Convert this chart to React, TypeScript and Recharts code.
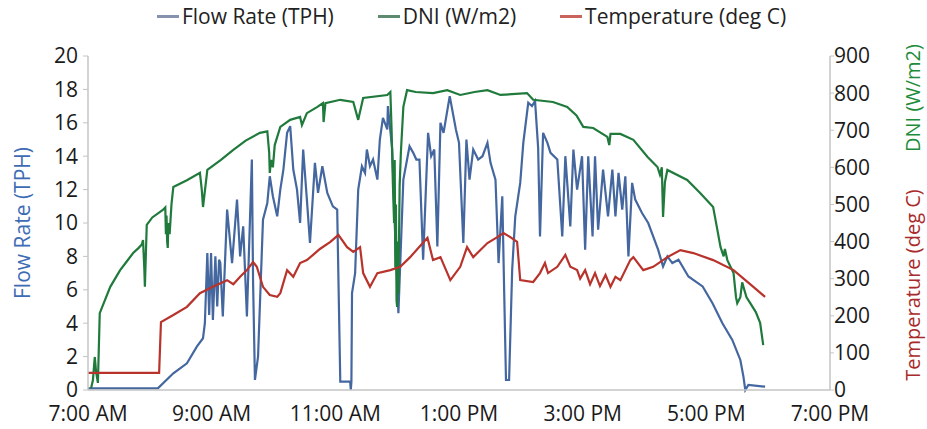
import React from 'react';
import { LineChart, Line, XAxis, YAxis, Legend } from 'recharts';

// time of day in decimal hours
const xTicks = [7, 9, 11, 13, 15, 17, 19];
const xTickLabels = ['7:00 AM', '9:00 AM', '11:00 AM', '1:00 PM', '3:00 PM', '5:00 PM', '7:00 PM'];
const leftTicks = [0, 2, 4, 6, 8, 10, 12, 14, 16, 18, 20];
const rightTicks = [0, 100, 200, 300, 400, 500, 600, 700, 800, 900];

const seriesNames = ['Flow Rate (TPH)', 'DNI (W/m2)', 'Temperature (deg C)'];
const seriesColors = ['#44679f', '#1f7a3c', '#b8332b'];
const legendIconColors = ['#8591ad', '#5e8a70', '#c8645c'];

const flowRate: [number, number][] = [
  [7.0, 0.1], [8.13, 0.1], [8.38, 1.0], [8.6, 1.6], [8.76, 2.6], [8.86, 3.1], [8.89, 4.0], [8.93, 8.2], [8.96, 4.5],
  [8.99, 8.2], [9.02, 4.2], [9.06, 8.0], [9.09, 5.0], [9.12, 7.8], [9.14, 7.6], [9.18, 4.4], [9.25, 10.8], [9.33, 7.6],
  [9.41, 11.4], [9.46, 8.0], [9.51, 9.8], [9.57, 4.4], [9.65, 13.8], [9.67, 6.4], [9.7, 0.6], [9.75, 2.0], [9.83, 10.2],
  [9.9, 11.2], [9.94, 12.8], [9.99, 11.6], [10.06, 10.4], [10.11, 12.0], [10.16, 13.2], [10.22, 15.4], [10.27, 15.8],
  [10.32, 13.2], [10.38, 12.0], [10.43, 10.0], [10.48, 14.4], [10.54, 11.4], [10.59, 8.8], [10.67, 13.6], [10.72, 11.8],
  [10.79, 13.4], [10.87, 11.8], [10.96, 11.0], [11.03, 10.8], [11.08, 0.5], [11.24, 0.5], [11.25, 0], [11.26, 0.5],
  [11.27, 5.8], [11.32, 7.0], [11.37, 12.0], [11.43, 13.4], [11.48, 13.0], [11.51, 14.4], [11.56, 13.4], [11.61, 13.8],
  [11.68, 12.6], [11.72, 15.0], [11.77, 16.3], [11.84, 15.6], [11.85, 17.0], [11.92, 14.4], [11.97, 9.0], [12.02, 4.6],
  [12.1, 12.6], [12.2, 14.6], [12.26, 14.2], [12.31, 13.8], [12.36, 13.8], [12.42, 7.8], [12.5, 15.4], [12.55, 14.0],
  [12.6, 14.4], [12.65, 8.6], [12.7, 16.0], [12.75, 15.4], [12.85, 17.6], [12.95, 15.6], [13.0, 14.8], [13.07, 8.8],
  [13.12, 15.0], [13.17, 12.6], [13.23, 14.4], [13.31, 13.8], [13.38, 14.0], [13.46, 14.8], [13.51, 13.6], [13.59, 12.6],
  [13.64, 7.6], [13.7, 11.6], [13.73, 6.0], [13.76, 0.6], [13.81, 0.6], [13.86, 7.2], [13.91, 10.4],
  [13.99, 12.4], [14.04, 14.8], [14.12, 17.2], [14.18, 17.0], [14.23, 17.3], [14.28, 14.5], [14.31, 9.2], [14.36, 15.4],
  [14.43, 14.8], [14.48, 14.2], [14.59, 13.8], [14.67, 9.2], [14.72, 14.0], [14.8, 9.8], [14.85, 14.4], [14.91, 12.0],
  [14.99, 14.0], [15.04, 8.4], [15.09, 14.0], [15.16, 9.2], [15.2, 14.0], [15.25, 9.6], [15.33, 13.2], [15.41, 10.4],
  [15.48, 13.2], [15.53, 10.4], [15.58, 13.0], [15.64, 10.8], [15.69, 12.8], [15.74, 8.0], [15.8, 12.4], [15.85, 11.4],
  [15.96, 10.6], [16.06, 10.0], [16.22, 8.4], [16.3, 7.4], [16.37, 8.0], [16.45, 7.6], [16.55, 7.8], [16.71, 6.8],
  [16.94, 6.2], [17.1, 5.2], [17.26, 4.0], [17.42, 3.0], [17.55, 1.8], [17.6, 0.8], [17.63, 0], [17.68, 0.3], [17.95, 0.2],
];

const dni: [number, number][] = [
  [7.05, 5], [7.08, 27], [7.1, 70], [7.11, 89], [7.13, 50], [7.16, 19], [7.19, 207], [7.36, 278], [7.52, 323],
  [7.62, 345], [7.73, 369], [7.82, 383], [7.87, 392], [7.89, 404], [7.91, 330], [7.92, 278], [7.95, 445], [8.04, 465],
  [8.21, 485], [8.25, 492], [8.26, 420], [8.27, 470], [8.28, 400], [8.29, 383], [8.3, 450], [8.32, 420], [8.35, 500],
  [8.38, 547], [8.6, 565], [8.81, 585], [8.84, 540], [8.86, 493], [8.93, 593], [9.15, 620], [9.35, 647], [9.55, 672],
  [9.78, 693], [9.9, 697], [9.93, 640], [9.94, 585], [9.96, 620], [9.99, 600], [10.02, 660], [10.11, 709], [10.27, 728],
  [10.43, 736], [10.46, 714], [10.54, 746], [10.71, 763], [10.8, 773], [10.81, 722], [10.84, 773], [11.08, 782],
  [11.29, 776], [11.37, 728], [11.45, 787], [11.84, 795], [11.89, 803], [11.91, 700], [11.93, 560], [11.95, 450],
  [11.96, 620], [11.97, 330], [11.98, 500], [11.99, 240], [12.0, 224], [12.01, 400], [12.02, 260], [12.04, 550],
  [12.06, 640], [12.1, 763], [12.16, 808], [12.3, 803], [12.58, 800], [12.81, 808], [13.02, 795], [13.25, 803],
  [13.46, 808], [13.67, 795], [14.1, 800], [14.2, 782], [14.52, 776], [14.75, 763], [14.9, 740], [15.01, 709],
  [15.17, 706], [15.4, 682], [15.43, 660], [15.45, 690], [15.61, 690], [15.82, 674], [16.05, 628], [16.21, 601],
  [16.25, 580], [16.28, 600], [16.3, 466], [16.33, 560], [16.37, 593], [16.69, 566], [16.9, 531], [17.11, 493],
  [17.18, 430], [17.23, 385], [17.28, 360], [17.3, 380], [17.34, 350], [17.44, 315], [17.48, 250], [17.5, 234],
  [17.55, 250], [17.58, 290], [17.6, 278], [17.65, 250], [17.71, 234], [17.8, 210], [17.87, 181], [17.92, 121],
];

const temperature: [number, number][] = [
  [7.0, 46], [8.15, 46], [8.18, 183], [8.38, 202], [8.6, 224], [8.81, 261], [9.02, 278], [9.25, 296], [9.35, 285],
  [9.46, 305], [9.57, 323], [9.67, 345], [9.73, 332], [9.83, 278], [9.94, 256], [10.06, 251], [10.11, 261],
  [10.22, 323], [10.32, 305], [10.43, 342], [10.54, 350], [10.64, 364], [10.75, 380], [10.92, 399], [11.05, 418],
  [11.19, 385], [11.29, 372], [11.4, 385], [11.45, 315], [11.56, 278], [11.68, 315], [11.89, 323], [12.05, 332],
  [12.21, 358], [12.49, 410], [12.58, 350], [12.7, 358], [12.86, 296], [13.02, 332], [13.13, 385], [13.23, 358],
  [13.46, 396], [13.62, 412], [13.72, 423], [13.83, 412], [13.94, 399], [13.99, 296], [14.2, 291], [14.31, 315],
  [14.39, 342], [14.44, 315], [14.59, 332], [14.72, 364], [14.8, 332], [14.91, 323], [14.96, 300], [15.04, 323],
  [15.12, 285], [15.2, 315], [15.28, 280], [15.37, 310], [15.45, 278], [15.53, 305], [15.61, 296], [15.77, 350],
  [15.82, 358], [15.98, 323], [16.14, 332], [16.37, 358], [16.58, 377], [16.79, 369], [17.11, 350], [17.44, 323],
  [17.76, 278], [17.95, 251],
];

const toRows = (arr: [number, number][]) => arr.map(([t, v]) => ({ t, v }));

const FONT = '"Open Sans", "Noto Sans", sans-serif';
const AXIS_COLOR = '#c4c4c4';

const LegendContent = () => (
  <div style={{ display: 'flex', justifyContent: 'center', alignItems: 'center', fontFamily: FONT, fontSize: 21, color: '#222', paddingLeft: 16, lineHeight: '28px' }}>
    {seriesNames.map((name, i) => (
      <div key={name} style={{ display: 'flex', alignItems: 'center', marginRight: i < seriesNames.length - 1 ? 44 : 0 }}>
        <span style={{ display: 'inline-block', width: 22, height: 3, background: legendIconColors[i], marginRight: 3 }} />
        <span>{name}</span>
      </div>
    ))}
  </div>
);

const LeftTitle = (props: any) => {
  const vb = props.viewBox || {};
  const cx = 22;
  const cy = vb.y + vb.height / 2;
  return (
    <text x={cx} y={cy} transform={`rotate(-90, ${cx}, ${cy})`} textAnchor="middle" dominantBaseline="central"
      fill="#3d6cb5" fontFamily={FONT} fontSize={21}>
      {seriesNames[0]}
    </text>
  );
};

const RightTitles = (props: any) => {
  const vb = props.viewBox || {};
  const cx = vb.x + 82;
  const c1 = vb.y + 42;
  const c2 = vb.y + 229;
  return (
    <g>
      <text x={cx} y={c1} transform={`rotate(-90, ${cx}, ${c1})`} textAnchor="middle" dominantBaseline="central"
        fill="#1e8c3a" fontFamily={FONT} fontSize={20}>
        {seriesNames[1]}
      </text>
      <text x={cx} y={c2} transform={`rotate(-90, ${cx}, ${c2})`} textAnchor="middle" dominantBaseline="central"
        fill="#a82a2a" fontFamily={FONT} fontSize={20}>
        {seriesNames[2]}
      </text>
    </g>
  );
};

export default function App() {
  const tickStyle = { fill: '#1a1a1a', fontFamily: FONT, fontSize: 21 };
  return (
    <div style={{ position: 'absolute', left: 0, top: 0, width: 927, height: 429 }}>
      <LineChart width={927} height={429} margin={{ top: 56, right: 0, bottom: 9, left: 0 }}>
        <XAxis
          dataKey="t"
          type="number"
          domain={[7, 19]}
          ticks={xTicks}
          tickFormatter={(v: number) => xTickLabels[xTicks.indexOf(v)] ?? ''}
          tick={tickStyle}
          tickLine={false}
          tickSize={6}
          tickMargin={10}
          height={30}
          interval={0}
          axisLine={{ stroke: AXIS_COLOR, strokeWidth: 1.5 }}
          allowDataOverflow
        />
        <YAxis
          yAxisId="left"
          orientation="left"
          width={88}
          domain={[0, 20]}
          ticks={leftTicks}
          interval={0}
          tick={tickStyle}
          tickSize={5}
          tickMargin={5}
          tickLine={{ stroke: AXIS_COLOR }}
          axisLine={{ stroke: AXIS_COLOR, strokeWidth: 1.5 }}
          label={{ content: LeftTitle }}
        />
        <YAxis
          yAxisId="right"
          orientation="right"
          width={97}
          domain={[0, 900]}
          ticks={rightTicks}
          interval={0}
          tick={tickStyle}
          tickSize={4}
          tickMargin={0}
          tickLine={{ stroke: AXIS_COLOR }}
          axisLine={{ stroke: AXIS_COLOR, strokeWidth: 1.5 }}
          label={{ content: RightTitles }}
        />
        <Legend
          verticalAlign="middle"
          align="center"
          layout="horizontal"
          wrapperStyle={{ top: 2, left: 0, width: 927 }}
          content={LegendContent}
        />
        <Line yAxisId="left" data={toRows(flowRate)} dataKey="v" name={seriesNames[0]} stroke={seriesColors[0]}
          strokeWidth={2.2} dot={false} type="linear" isAnimationActive={false} />
        <Line yAxisId="right" data={toRows(dni)} dataKey="v" name={seriesNames[1]} stroke={seriesColors[1]}
          strokeWidth={2.2} dot={false} type="linear" isAnimationActive={false} />
        <Line yAxisId="right" data={toRows(temperature)} dataKey="v" name={seriesNames[2]} stroke={seriesColors[2]}
          strokeWidth={2.2} dot={false} type="linear" isAnimationActive={false} />
      </LineChart>
    </div>
  );
}
